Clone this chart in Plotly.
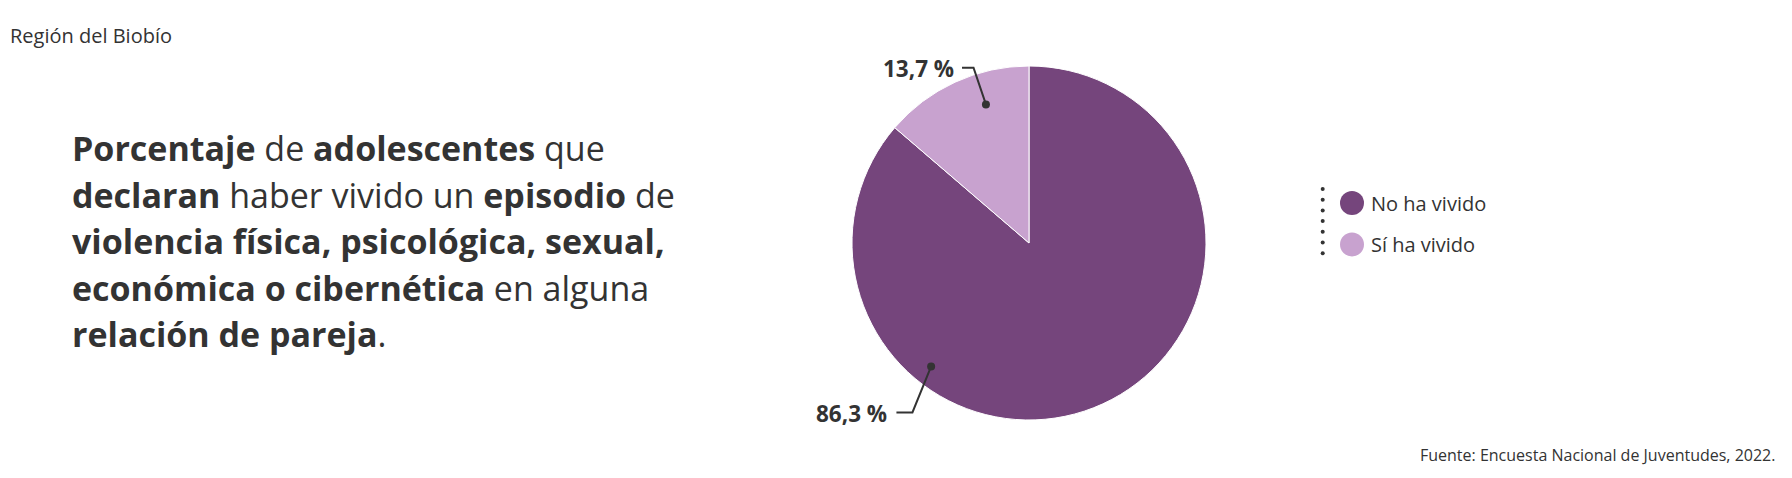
import math
import plotly.graph_objects as go

# ---- data ----
labels = ["No ha vivido", "Sí ha vivido"]
values = [86.3, 13.7]
colors = ["#75457c", "#c8a2cf"]

region = "Región del Biobío"
title_lines = [
    "<b>Porcentaje</b> de <b>adolescentes</b> que",
    "<b>declaran</b> haber vivido un <b>episodio</b> de",
    "<b>violencia física, psicológica, sexual,</b>",
    "<b>económica o cibernética</b> en alguna",
    "<b>relación de pareja</b>.",
]
source = "Fuente: Encuesta Nacional de Juventudes, 2022."

# ---- layout constants (pixels in the 1792x478 window) ----
OFF = 8  # default body margin of the html page
W, H = 1792 - OFF, 478 - OFF
FONT = "Open Sans"
TXT = "#333333"
cx, cy, R = 1029, 243, 177
# leader-label styling: position inside slice (fraction of slice angle, fraction of radius)
anchor_frac = [0.703, 0.65]
anchor_rad = [0.89, 0.82]
elbow_off = [(-18.7, 46.0), (-12.4, -36.7)]
tail_len = [16, 11.5]
label_gap = [7, 6]


def px(x):
    return (x - OFF) / W


def py(y):
    return 1 - (y - OFF) / H


fig = go.Figure()
fig.add_trace(go.Pie(
    labels=labels, values=values, sort=False, direction="clockwise", rotation=0,
    marker=dict(colors=colors, line=dict(color="white", width=1)),
    textinfo="none", showlegend=False,
    domain=dict(x=[px(cx - R), px(cx + R)], y=[py(cy + R), py(cy - R)]),
))

shapes = []
annotations = []

# leader lines + value labels
total = sum(values)
start = 0.0
for i, v in enumerate(values):
    span = 360 * v / total
    ang = math.radians(start + span * anchor_frac[i])  # clockwise from 12 o'clock
    start += span
    dx = cx + anchor_rad[i] * R * math.sin(ang)
    dy = cy - anchor_rad[i] * R * math.cos(ang)
    ex, ey = dx + elbow_off[i][0], dy + elbow_off[i][1]
    tx = ex - tail_len[i]
    shapes.append(dict(type="path", xref="paper", yref="paper",
                       path=f"M{px(dx)},{py(dy)} L{px(ex)},{py(ey)} L{px(tx)},{py(ey)}",
                       line=dict(color=TXT, width=2)))
    r = 4
    shapes.append(dict(type="circle", xref="paper", yref="paper",
                       x0=px(dx - r), x1=px(dx + r), y0=py(dy + r), y1=py(dy - r),
                       fillcolor=TXT, line=dict(width=0)))
    lab = f"{v:.1f}".replace(".", ",") + " %"
    annotations.append(dict(text=f"<b>{lab}</b>", x=px(tx - label_gap[i]), y=py(ey + 1),
                            xref="paper", yref="paper", xanchor="right", yanchor="middle",
                            showarrow=False, font=dict(family=FONT, size=22.5, color=TXT)))

# manual legend
leg_x, leg_y0, leg_dy = 1352, 203, 41.5
for i, lab in enumerate(labels):
    yy = leg_y0 + i * leg_dy
    shapes.append(dict(type="circle", xref="paper", yref="paper",
                       x0=px(leg_x - 12), x1=px(leg_x + 12), y0=py(yy + 12), y1=py(yy - 12),
                       fillcolor=colors[i], line=dict(width=0)))
    annotations.append(dict(text=lab, x=px(leg_x + 17), y=py(yy), xref="paper", yref="paper",
                            xanchor="left", yanchor="middle", showarrow=False,
                            font=dict(family=FONT, size=20, color=TXT)))
for k in range(7):
    yy = 189 + k * 10.7
    shapes.append(dict(type="circle", xref="paper", yref="paper",
                       x0=px(1322.7 - 2), x1=px(1322.7 + 2), y0=py(yy + 2), y1=py(yy - 2),
                       fillcolor=TXT, line=dict(width=0)))

# texts
annotations.append(dict(text=region, x=px(8), y=py(36), xref="paper", yref="paper",
                        xanchor="left", yanchor="middle", showarrow=False,
                        font=dict(family=FONT, size=20, color=TXT)))
for j, line in enumerate(title_lines):
    annotations.append(dict(text=line, x=px(70), y=py(148 + j * 46.6), xref="paper", yref="paper",
                            xanchor="left", yanchor="middle", showarrow=False,
                            font=dict(family=FONT, size=34, color=TXT)))
annotations.append(dict(text=source, x=px(1776.5), y=py(455), xref="paper", yref="paper",
                        xanchor="right", yanchor="middle", showarrow=False,
                        font=dict(family=FONT, size=16, color=TXT)))

fig.update_layout(width=W, height=H, margin=dict(l=0, r=0, t=0, b=0),
                  paper_bgcolor="white", plot_bgcolor="white",
                  shapes=shapes, annotations=annotations)
fig.write_html("out.html")
